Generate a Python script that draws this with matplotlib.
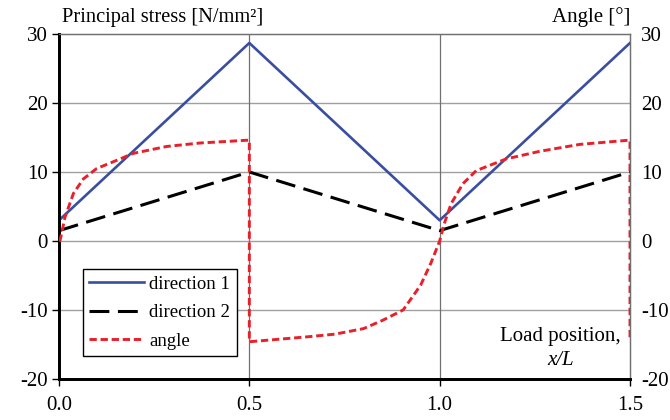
import numpy as np
import matplotlib
matplotlib.use("Agg")
import matplotlib.pyplot as plt

# data
x_dir = [0.0, 0.5, 1.0, 1.5]
dir1 = [3.0, 28.7, 3.0, 28.7]
dir2 = [1.5, 10.0, 1.5, 10.0]

x_angle = [0.0, 0.003, 0.016, 0.038, 0.064, 0.099, 0.152, 0.195, 0.283, 0.370, 0.493, 0.5,
           0.5, 0.65, 0.725, 0.80, 0.85, 0.904, 0.950, 0.977, 1.0,
           1.012, 1.03, 1.061, 1.096, 1.175, 1.263, 1.368, 1.495, 1.5, 1.5]
angle = [0.0, 0.1, 3.5, 6.9, 9.0, 10.5, 11.7, 12.7, 13.7, 14.2, 14.6, 14.6,
         -14.6, -13.9, -13.5, -12.7, -11.5, -10.0, -6.4, -3.2, 0.0,
         2.5, 5.4, 8.3, 10.2, 11.9, 13.0, 14.0, 14.6, 14.6, -14.4]

xticks = [0.0, 0.5, 1.0, 1.5]
yticks = [-20, -10, 0, 10, 20, 30]

plt.rcParams["font.family"] = ["Liberation Serif", "DejaVu Serif"]
plt.rcParams["font.size"] = 15
plt.rcParams["axes.unicode_minus"] = False

blue = "#3a4ea0"
red = "#e8202a"

fig = plt.figure(figsize=(6.7, 4.2), dpi=100)
ax = fig.add_axes([59 / 670, 1 - 379 / 420, (630 - 59) / 670, (379 - 34) / 420])

ax.set_xlim(0, 1.5)
ax.set_ylim(-20, 30)
ax.set_xticks(xticks)
ax.set_xticklabels([f"{v:.1f}" for v in xticks])
ax.set_yticks(yticks)

# grid
for y in yticks[1:-1]:
    ax.axhline(y, color="#a0a0a0", lw=1.0, zorder=0)
for xv in [0.5, 1.0]:
    ax.axvline(xv, color="#707070", lw=0.9, zorder=0)

l1, = ax.plot(x_dir, dir1, color=blue, lw=1.9, label="direction 1", zorder=3)
l2, = ax.plot(x_dir, dir2, color="black", lw=2.2, dashes=(6.5, 2.8), label="direction 2", zorder=3)

ax2 = ax.twinx()
ax2.set_ylim(-20, 30)
ax2.set_yticks(yticks)
l3, = ax2.plot(x_angle, angle, color=red, lw=2.1, dashes=(2.5, 1.3), label="angle", zorder=3)
ax2.tick_params(axis="y", length=0, pad=8)

for a in (ax, ax2):
    a.spines["top"].set_color("#707070")
    a.spines["top"].set_linewidth(0.9)
    a.spines["right"].set_color("#707070")
    a.spines["right"].set_linewidth(0.9)
    a.spines["left"].set_linewidth(2.0)
    a.spines["bottom"].set_linewidth(2.0)

ax.tick_params(axis="both", length=5, width=1.0, direction="out")
ax.tick_params(axis="x", pad=7)
ax.tick_params(axis="y", pad=3)

leg = ax.legend(handles=[l1, l2, l3], loc="upper left",
                bbox_to_anchor=((82.7 - 59) / 571, (379 - 269.3) / 345),
                frameon=True, fancybox=False, edgecolor="black", framealpha=1,
                handlelength=2.9, handletextpad=0.3, borderpad=0.35, labelspacing=0.6,
                borderaxespad=0, fontsize=13.5)
leg.get_frame().set_linewidth(1.0)

fig.text(62 / 670, 1 - 22 / 420, "Principal stress [N/mm²]", ha="left", va="baseline", fontsize=14.7)
fig.text(630 / 670, 1 - 22 / 420, "Angle [°]", ha="right", va="baseline", fontsize=15)
ax.text(1.318, -12.5, "Load position,", ha="center", va="top", fontsize=15)
ax.text(1.318, -16.0, "x/L", ha="center", va="top", fontsize=15, style="italic")

fig.savefig("out.png", dpi=100)
